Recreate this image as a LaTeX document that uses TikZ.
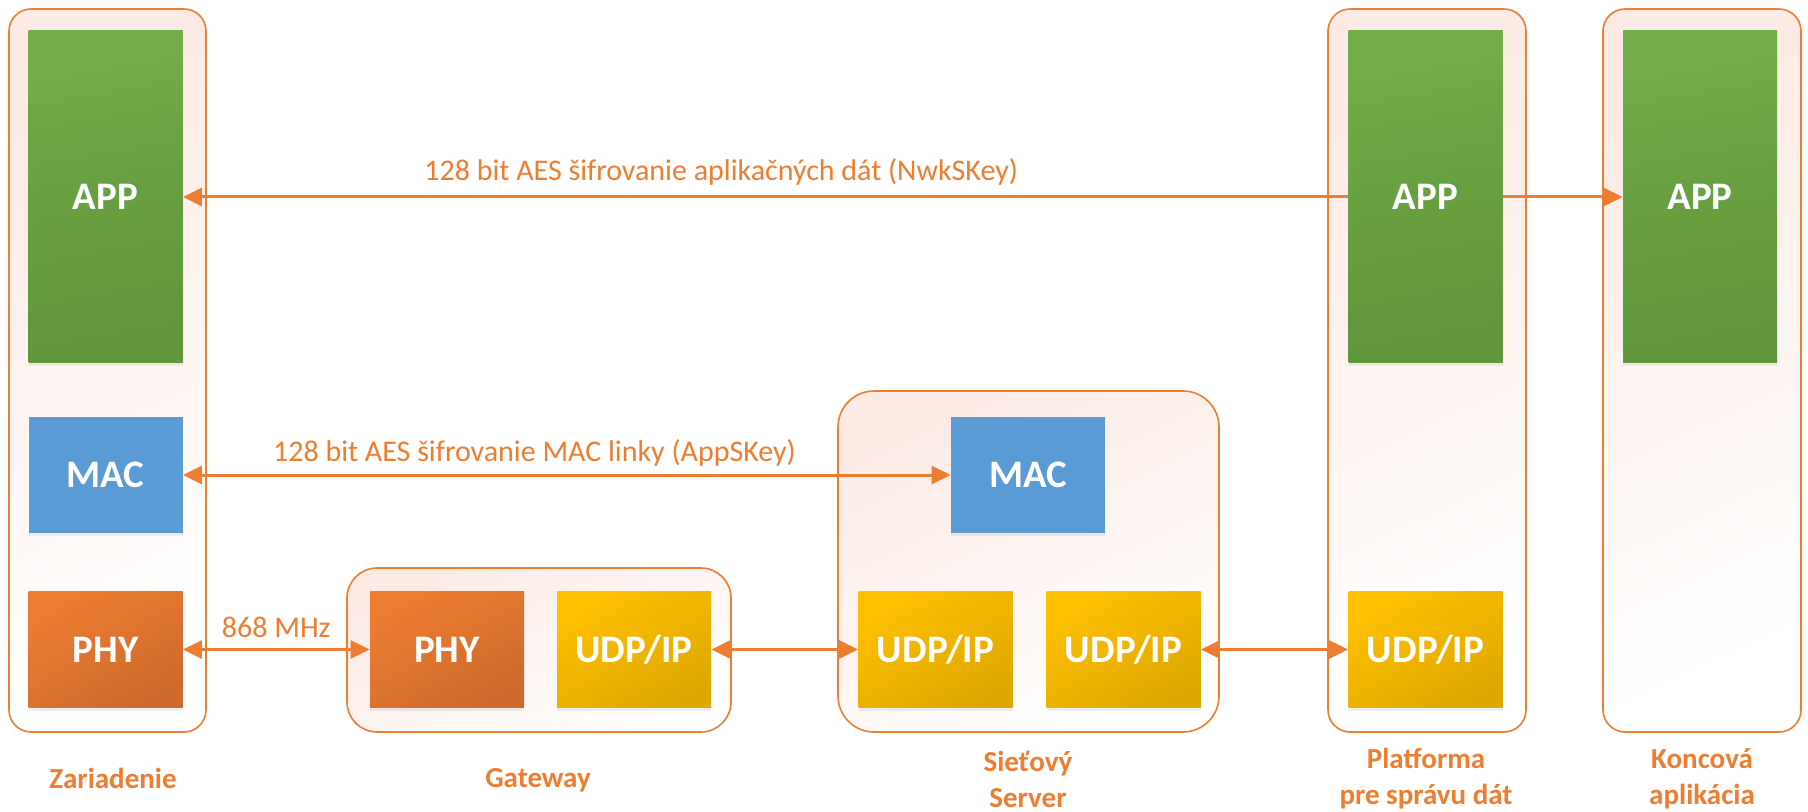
\documentclass[tikz,border=0pt]{standalone}
\usepackage{fontspec}
\setmainfont{Carlito}
\usetikzlibrary{arrows.meta}
\usetikzlibrary{shadows}

\definecolor{lineorange}{HTML}{ED7D31}
\definecolor{unitpink}{RGB}{252,234,228}
\definecolor{appgreen}{RGB}{114,174,72}
\definecolor{appgreendark}{RGB}{96,150,60}
\definecolor{macblue}{HTML}{5B9BD5}
\definecolor{phyorange}{HTML}{ED7D31}
\definecolor{phyorangedark}{RGB}{206,106,44}
\definecolor{udpyellow}{HTML}{FFC000}
\definecolor{udpyellowdark}{RGB}{222,168,0}

\begin{document}
\begin{tikzpicture}
    [
    x=0.5pt, y=-0.5pt,
    >={Triangle[length=9.5pt,width=9pt]},
    every node/.style={inner sep=0pt},
    unit/.style={draw=lineorange, line width=0.8pt, rounded corners=#1,
        top color=unitpink, bottom color=white, shading angle=25},
    unit/.default=11pt,
    layer/.style={minimum width=77pt, minimum height=58pt, text=white,
        font=\bfseries\fontsize{19.5}{23}\selectfont,
        drop shadow={opacity=0.12, shadow xshift=0pt, shadow yshift=-1.5pt}},
    appbox/.style={layer, minimum height=166pt, top color=appgreen,
        bottom color=appgreendark, middle color=appgreendark!60!appgreen, shading angle=10},
    macbox/.style={layer, fill=macblue},
    phybox/.style={layer, top color=phyorange, bottom color=phyorangedark, shading angle=30},
    udpbox/.style={layer, top color=udpyellow, bottom color=udpyellowdark, shading angle=30},
    link/.style={draw=lineorange, line width=1.5pt},
    linktext/.style={text=lineorange, font=\fontsize{15}{18}\selectfont, anchor=base},
    caption/.style={text=lineorange, align=center, font=\bfseries\fontsize{14.5}{18}\selectfont},
    ]

    \useasboundingbox (0,0) rectangle (1808,812);

    \node[unit, minimum width=98.5pt, minimum height=361.5pt] (dev) at (107.5,370.5) {};
    \node[unit=15pt, minimum width=192pt, minimum height=82pt] (gw) at (539,650) {};
    \node[unit=18pt, minimum width=190.5pt, minimum height=170.5pt] (srv) at (1028.5,561.5) {};
    \node[unit, minimum width=99pt, minimum height=361.5pt] (plat) at (1427,370.5) {};
    \node[unit, minimum width=99pt, minimum height=361.5pt] (koncova) at (1702,370.5) {};

    \node[appbox] (dev_app) at (105.5,197) {APP};
    \node[macbox] (dev_mac) at (105.5,475) {MAC};
    \node[phybox] (dev_phy) at (105.5,649.5) {PHY};

    \node[phybox] (gw_phy) at (447,649.5) {PHY};
    \node[udpbox] (gw_udp) at (634,649.5) {UDP/IP};

    \node[macbox] (srv_mac) at (1028,475) {MAC};
    \node[udpbox] (srv_udp_a) at (935.5,649.5) {UDP/IP};
    \node[udpbox] (srv_udp_b) at (1123.5,649.5) {UDP/IP};

    \node[appbox] (plat_app) at (1425.5,197) {APP};
    \node[udpbox] (plat_udp) at (1425.5,649.5) {UDP/IP};

    \node[appbox] (koncova_app) at (1700,197) {APP};

    \draw[link, ->] (plat_app.west) -- (dev_app.east)
        node[linktext, pos=0.538, yshift=8pt] {128 bit AES šifrovanie aplikačných dát (NwkSKey)};
    \draw[link, ->] (plat_app.east) -- (koncova_app.west);
    \draw[link, <->] (dev_mac.east) -- (srv_mac.west)
        node[linktext, pos=0.458, yshift=7pt] {128 bit AES šifrovanie MAC linky (AppSKey)};
    \draw[link, <->] (dev_phy.east) -- (gw_phy.west)
        node[linktext, midway, yshift=6pt] {868 MHz};
    \draw[link, <->] (gw_udp.east) -- (srv_udp_a.west);
    \draw[link, <->] (srv_udp_b.east) -- (plat_udp.west);

    \node[caption] (dev_label) at (113,778) {Zariadenie};
    \node[caption] (gw_label) at (538,780) {Gateway};
    \node[caption] (srv_label) at (1028,779) {Sieťový\\Server};
    \node[caption] (plat_label) at (1426,779) {Platforma\\pre správu dát};
    \node[caption] (koncova_label) at (1702,779) {Koncová\\aplikácia};
\end{tikzpicture}
\end{document}
